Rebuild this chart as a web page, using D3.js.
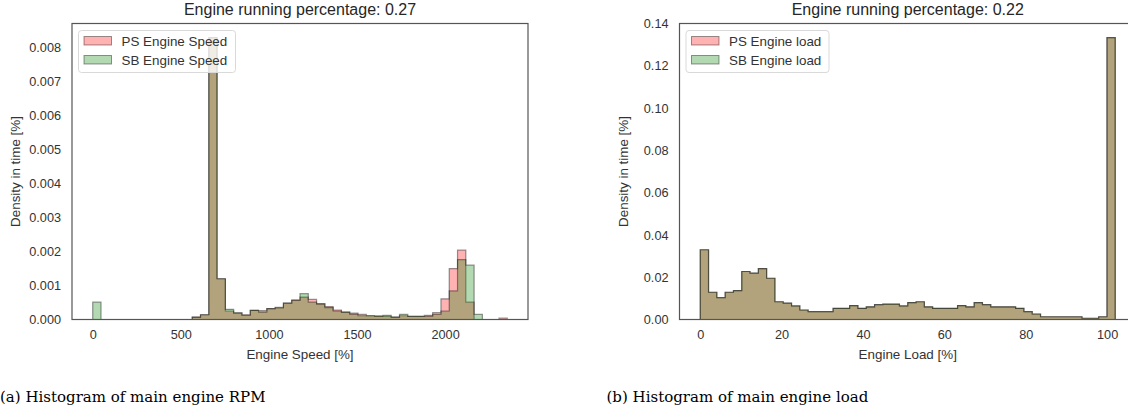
<!DOCTYPE html>
<html>
  <head>
    <meta charset="utf-8">
    <script src="https://d3js.org/d3.v7.min.js"></script>
    <title>Engine histograms</title>
    <style>
      body { margin: 0; background: #fff; }
      svg { font-family: "Liberation Sans", Arial, sans-serif; }
      .tick text { font-size: 12.7px; fill: #333; }
      .axis-label { font-size: 13.4px; fill: #333; }
      .title { font-size: 16px; fill: #262626; }
      .legend text { font-size: 13.4px; fill: #333; }
      .caption { font-family: "DejaVu Serif", "Liberation Serif", serif; font-size: 15px; fill: #000; }
    </style>
  </head>
  <body>
    <svg width="1128" height="410"></svg>
    <script>
      // ---- data ----
      // left: engine speed, 50 bins between 0 and 2353
      const rpmRange = [0, 2353];
      const rpmPS = [0, 0, 0, 0, 0, 0, 0, 0, 0, 0,
        0, 0, 0.00007, 0.00014, 0.0083, 0.0012, 0.00025, 0.00018, 0.00014, 0.00027,
        0.00026, 0.00032, 0.00036, 0.00048, 0.00058, 0.00066, 0.00059, 0.00047, 0.00038, 0.00028,
        0.00022, 0.00019, 0.00015, 0.00011, 0.0001, 0.00009, 0.00007, 0.00011, 0.00009, 0.00009,
        0.00012, 0.0002, 0.00061, 0.0015, 0.00204, 0.00051, 0, 0, 0, 0.00004];
      const rpmSB = [0.00051, 0, 0, 0, 0, 0, 0, 0, 0, 0,
        0, 0, 0.00007, 0.00014, 0.0083, 0.0012, 0.0003, 0.0002, 0.00012, 0.00027,
        0.00022, 0.00032, 0.00034, 0.00048, 0.00056, 0.00076, 0.00051, 0.00045, 0.00035, 0.00025,
        0.00022, 0.00015, 0.00011, 0.00011, 0.0001, 0.00012, 0.00007, 0.00015, 0.00009, 0.00009,
        0.00009, 0.00015, 0.00025, 0.00084, 0.00176, 0.0016, 0.00015, 0, 0, 0];
      const rpmTicksX = [0, 500, 1000, 1500, 2000];
      const rpmTicksY = [0, 0.001, 0.002, 0.003, 0.004, 0.005, 0.006, 0.007, 0.008];

      // right: engine load, 50 bins between 0 and 102
      const loadRange = [0, 102];
      const loadPS = [0.033, 0.0129, 0.0103, 0.0129, 0.0137, 0.0227, 0.0219, 0.0241, 0.0195, 0.0084,
        0.0077, 0.0064, 0.0045, 0.0037, 0.0037, 0.0037, 0.0053, 0.0053, 0.0066, 0.0053,
        0.006, 0.007, 0.0073, 0.0073, 0.0064, 0.008, 0.0084, 0.006, 0.0053, 0.0053,
        0.0053, 0.0066, 0.006, 0.008, 0.007, 0.006, 0.006, 0.006, 0.0053, 0.0037,
        0.0026, 0.0013, 0.0013, 0.0013, 0.0013, 0.0013, 0.0006, 0.0006, 0.0013, 0.1333];
      const loadSB = [0.033, 0.0129, 0.0103, 0.0129, 0.0137, 0.0227, 0.0219, 0.0241, 0.0195, 0.0084,
        0.0077, 0.0064, 0.0045, 0.0037, 0.0037, 0.0037, 0.0053, 0.0053, 0.0066, 0.0053,
        0.006, 0.007, 0.0073, 0.0073, 0.0064, 0.008, 0.0084, 0.006, 0.0053, 0.0053,
        0.0053, 0.0066, 0.006, 0.008, 0.007, 0.006, 0.006, 0.006, 0.0053, 0.0037,
        0.0026, 0.0013, 0.0013, 0.0013, 0.0013, 0.0013, 0.0006, 0.0006, 0.0013, 0.1333];
      const loadTicksX = [0, 20, 40, 60, 80, 100];
      const loadTicksY = [0, 0.02, 0.04, 0.06, 0.08, 0.10, 0.12, 0.14];

      const svg = d3.select('svg');
      const plotTop = 23.5, plotBottom = 319.5;

      function panel(opt) {
        const g = svg.append('g');
        const n = opt.ps.length;
        const step = (opt.range[1] - opt.range[0]) / n;
        const edges = d3.range(n + 1).map(i => opt.range[0] + i * step);
        const pad = (opt.range[1] - opt.range[0]) * 0.05;

        const x = d3.scaleLinear()
          .domain([opt.range[0] - pad, opt.range[1] + pad])
          .range([opt.left, opt.right]);
        const y = d3.scaleLinear()
          .domain([0, opt.ymax])
          .range([plotBottom, plotTop]);

        const line = d3.line().x(d => x(d[0])).y(d => y(d[1]));
        const stepPts = vals => {
          const pts = [[edges[0], 0]];
          vals.forEach((v, i) => { pts.push([edges[i], v]); pts.push([edges[i + 1], v]); });
          pts.push([edges[n], 0]);
          return pts;
        };

        [[opt.ps, '#ff0000'], [opt.sb, '#008000']].forEach(([vals, c]) => {
          g.append('path')
            .attr('d', line(stepPts(vals)) + 'Z')
            .attr('fill', c)
            .attr('fill-opacity', 0.3)
            .attr('stroke', '#000')
            .attr('stroke-opacity', 0.4)
            .attr('stroke-width', 1.2);
        });

        // frame
        g.append('rect')
          .attr('x', opt.left).attr('y', plotTop)
          .attr('width', opt.right - opt.left).attr('height', plotBottom - plotTop)
          .attr('fill', 'none').attr('stroke', '#555').attr('stroke-width', 1.2);

        const xAxisG = g.append('g').attr('transform', `translate(0, ${plotBottom})`)
          .call(d3.axisBottom(x).tickValues(opt.ticksX).tickFormat(d3.format('d')).tickSize(0).tickPadding(10));
        const yAxisG = g.append('g').attr('transform', `translate(${opt.left}, 0)`)
          .call(d3.axisLeft(y).tickValues(opt.ticksY).tickFormat(d3.format(opt.fmt)).tickSize(0).tickPadding(11));
        xAxisG.select('.domain').remove();
        yAxisG.select('.domain').remove();
        xAxisG.attr('font-family', null).attr('font-size', null);
        yAxisG.attr('font-family', null).attr('font-size', null);

        g.append('text')
          .attr('class', 'axis-label')
          .attr('text-anchor', 'middle')
          .attr('x', (opt.left + opt.right) / 2)
          .attr('y', 359)
          .text(opt.xLabel);
        g.append('text')
          .attr('class', 'axis-label')
          .attr('text-anchor', 'middle')
          .attr('transform', `translate(${opt.left - 52}, ${(plotTop + plotBottom) / 2}) rotate(-90)`)
          .text('Density in time [%]');

        g.append('text')
          .attr('class', 'title')
          .attr('text-anchor', 'middle')
          .attr('x', (opt.left + opt.right) / 2)
          .attr('y', 14.5)
          .text(opt.title);

        // legend
        const lg = g.append('g').attr('class', 'legend')
          .attr('transform', `translate(${opt.left + 6.5}, ${plotTop + 7})`);
        lg.append('rect')
          .attr('width', opt.legendW).attr('height', 42)
          .attr('rx', 3)
          .attr('fill', '#fff').attr('fill-opacity', 0.8)
          .attr('stroke', '#d9d9d9');
        opt.legend.forEach((name, i) => {
          const c = i === 0 ? '#ff0000' : '#008000';
          lg.append('rect')
            .attr('x', 5.5).attr('y', 6 + i * 19)
            .attr('width', 27.5).attr('height', 8.5)
            .attr('fill', c).attr('fill-opacity', 0.3)
            .attr('stroke', '#000').attr('stroke-opacity', 0.4);
          lg.append('text')
            .attr('x', 43).attr('y', 15 + i * 19)
            .text(name);
        });

        svg.append('text')
          .attr('class', 'caption')
          .attr('x', opt.capX)
          .attr('y', 402)
          .text(opt.caption);
      }

      panel({
        ps: rpmPS, sb: rpmSB, range: rpmRange, ymax: 0.0083 * 1.05,
        left: 72, right: 528,
        ticksX: rpmTicksX, ticksY: rpmTicksY, fmt: '.3f',
        xLabel: 'Engine Speed [%]',
        title: 'Engine running percentage: 0.27',
        legend: ['PS Engine Speed', 'SB Engine Speed'], legendW: 157,
        caption: '(a) Histogram of main engine RPM', capX: 0
      });
      panel({
        ps: loadPS, sb: loadSB, range: loadRange, ymax: 0.14,
        left: 679.5, right: 1136,
        ticksX: loadTicksX, ticksY: loadTicksY, fmt: '.2f',
        xLabel: 'Engine Load [%]',
        title: 'Engine running percentage: 0.22',
        legend: ['PS Engine load', 'SB Engine load'], legendW: 143,
        caption: '(b) Histogram of main engine load', capX: 606.5
      });
    </script>
  </body>
</html>
